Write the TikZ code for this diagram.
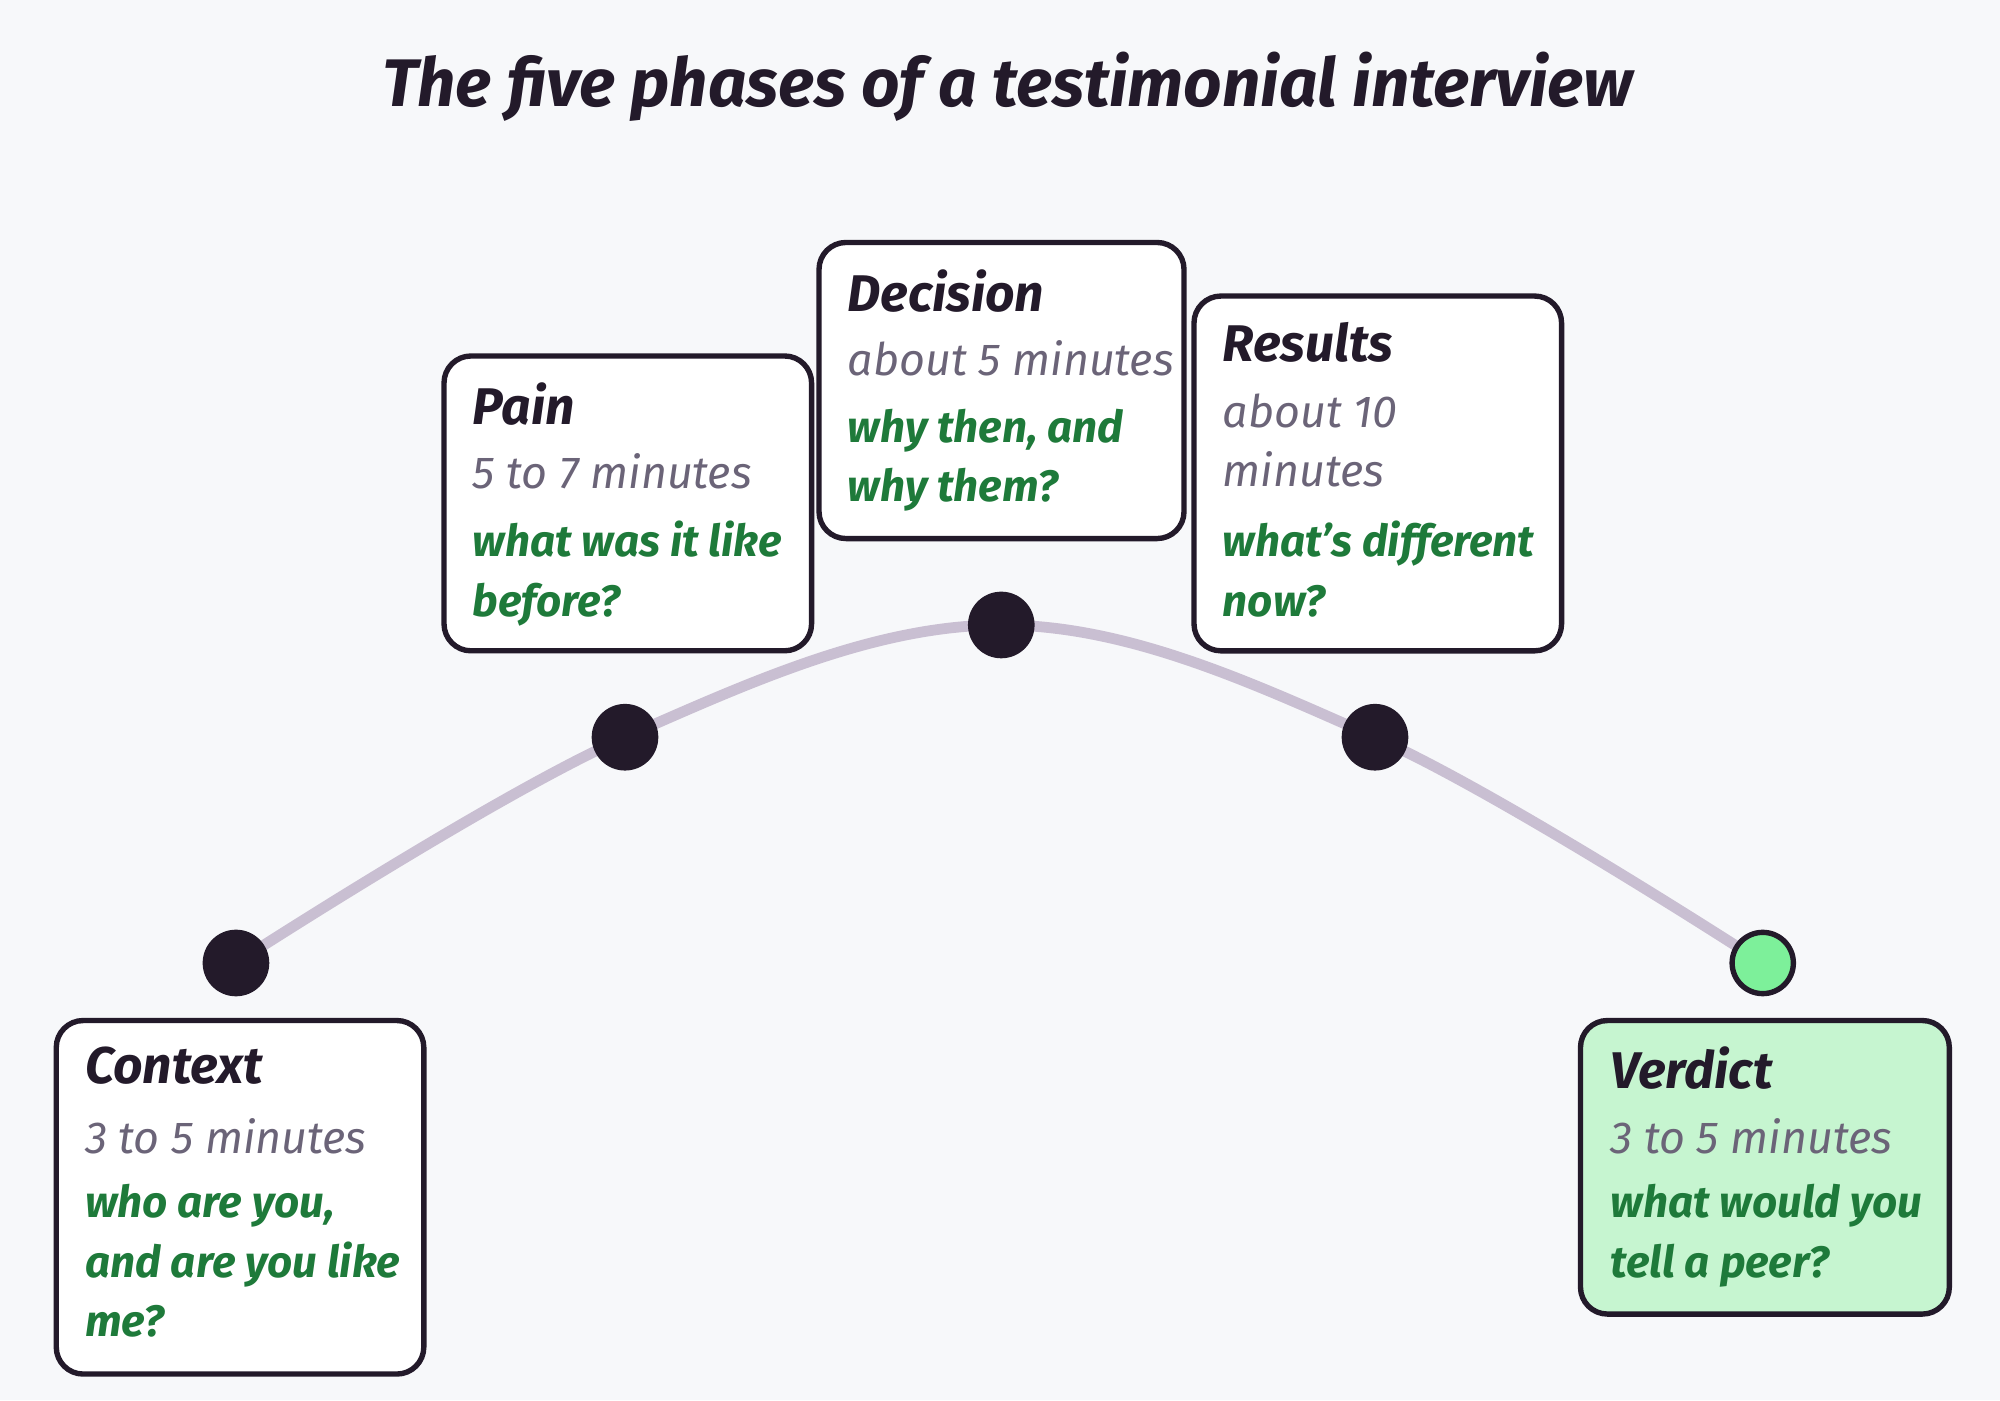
\documentclass[tikz,border=0pt]{standalone}
\usepackage{fontspec}
\setmainfont{Fira Sans}
\begin{document}
\definecolor{bg}{HTML}{F7F8FA}
\definecolor{ink}{HTML}{231A2A}
\definecolor{curve}{HTML}{C9BFD2}
\definecolor{gr}{HTML}{6B6478}
\definecolor{gn}{HTML}{1E7A3A}
\definecolor{vfill}{HTML}{C6F5D0}
\definecolor{vdot}{HTML}{7DF09A}
\begin{tikzpicture}[x=0.01cm,y=-0.01cm,
  box/.style={draw=ink,line width=1.2pt,fill=white,rounded corners=6pt,inner sep=0},
  dot/.style={circle,fill=ink,draw=ink,line width=1.2pt,minimum size=0.48cm,inner sep=0},
  txt/.style={anchor=north west,align=left,inner sep=0,font=\itshape\fontsize{10}{13.2}\selectfont},
  head/.style={txt,font=\bfseries\itshape\fontsize{11.5}{14}\selectfont,text=ink},
  dur/.style={txt,text=gr},
  q/.style={txt,text=gn,font=\bfseries\itshape\fontsize{9.8}{13.2}\selectfont}]
\fill[bg] (0,0) rectangle (1568,1098);
\useasboundingbox (0,0) rectangle (1568,1098);
\node[font=\bfseries\itshape\fontsize{15}{18}\selectfont,text=ink] (title) at (790,68) {The five phases of a testimonial interview};
\coordinate (c1) at (185,755);\coordinate (c2) at (490,578);\coordinate (c3) at (785,490);
\coordinate (c4) at (1078,578);\coordinate (c5) at (1382,755);
\draw[curve,line width=2.4pt,line cap=round] plot[smooth,tension=0.6] coordinates {(c1) (c2) (c3) (c4) (c5)};
\node[dot] (d1) at (c1) {};\node[dot] (d2) at (c2) {};\node[dot] (d3) at (c3) {};
\node[dot] (d4) at (c4) {};\node[dot,fill=vdot] (d5) at (c5) {};
% boxes
\node[box,anchor=north west,minimum width=2.88cm,minimum height=2.77cm] (b1) at (42,798) {};
\node[box,anchor=north west,minimum width=2.88cm,minimum height=2.31cm] (b2) at (346,277) {};
\node[box,anchor=north west,minimum width=2.86cm,minimum height=2.32cm] (b3) at (640,188) {};
\node[box,anchor=north west,minimum width=2.88cm,minimum height=2.78cm] (b4) at (934,230) {};
\node[box,fill=vfill,anchor=north west,minimum width=2.89cm,minimum height=2.30cm] (b5) at (1237,798) {};
% Context
\node[head] (h1) at (66,820) {Context};
\node[dur] (t1) at (66,876) {3 to 5 minutes};
\node[q] (q1) at (66,928) {who are you,\\and are you like\\me?};
% Pain
\node[head] (h2) at (370,299) {Pain};
\node[dur] (t2) at (370,355) {5 to 7 minutes};
\node[q] (q2) at (370,408) {what was it like\\before?};
% Decision
\node[head] (h3) at (664,211) {Decision};
\node[dur] (t3) at (664,266) {about 5 minutes};
\node[q] (q3) at (664,320) {why then, and\\why them?};
% Results
\node[head] (h4) at (958,252) {Results};
\node[dur] (t4) at (958,308) {about 10\\minutes};
\node[q] (q4) at (958,408) {what’s different\\now?};
% Verdict
\node[head] (h5) at (1262,820) {Verdict};
\node[dur] (t5) at (1262,876) {3 to 5 minutes};
\node[q] (q5) at (1262,928) {what would you\\tell a peer?};
\end{tikzpicture}
\end{document}
